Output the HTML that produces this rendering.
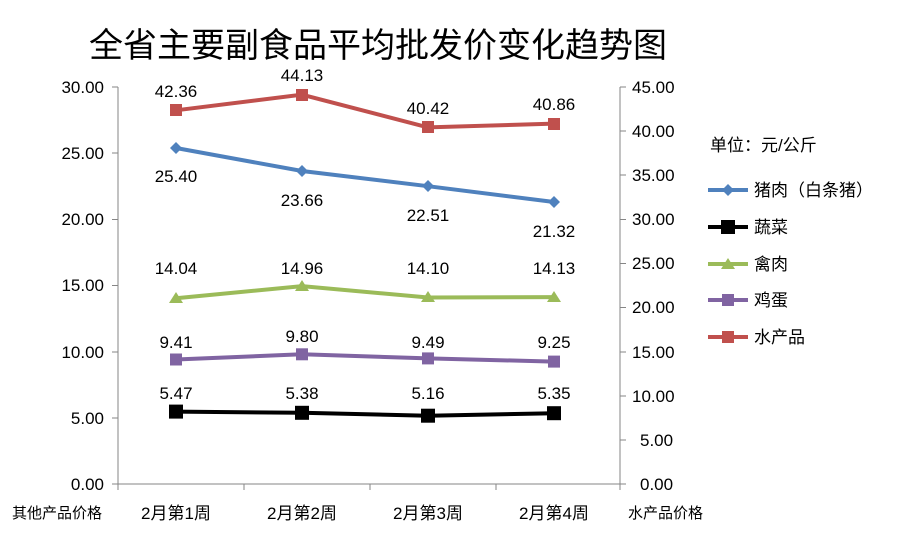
<!DOCTYPE html>
<html><head><meta charset="utf-8"><style>body{margin:0;background:#fff}svg{display:block}text{font-family:"Liberation Sans","Noto Sans CJK SC",sans-serif;fill:#000}</style></head><body>
<svg width="918" height="543" viewBox="0 0 918 543">
<text x="378" y="57" font-size="34" text-anchor="middle">全省主要副食品平均批发价变化趋势图</text>
<g stroke="#868686" stroke-width="1">
<line x1="118" y1="87" x2="118" y2="484"/><line x1="620" y1="87" x2="620" y2="484"/><line x1="118" y1="484" x2="620" y2="484"/>
<line x1="112" y1="87" x2="118" y2="87"/><line x1="112" y1="153" x2="118" y2="153"/><line x1="112" y1="219.5" x2="118" y2="219.5"/><line x1="112" y1="285.5" x2="118" y2="285.5"/><line x1="112" y1="352" x2="118" y2="352"/><line x1="112" y1="418" x2="118" y2="418"/><line x1="112" y1="484" x2="118" y2="484"/>
<line x1="620" y1="87" x2="626" y2="87"/><line x1="620" y1="131" x2="626" y2="131"/><line x1="620" y1="175" x2="626" y2="175"/><line x1="620" y1="219.5" x2="626" y2="219.5"/><line x1="620" y1="263.5" x2="626" y2="263.5"/><line x1="620" y1="307.5" x2="626" y2="307.5"/><line x1="620" y1="352" x2="626" y2="352"/><line x1="620" y1="396" x2="626" y2="396"/><line x1="620" y1="440" x2="626" y2="440"/><line x1="620" y1="484" x2="626" y2="484"/>
<line x1="244" y1="484" x2="244" y2="490"/><line x1="370" y1="484" x2="370" y2="490"/><line x1="496" y1="484" x2="496" y2="490"/><line x1="118" y1="484" x2="118" y2="490"/><line x1="620" y1="484" x2="620" y2="490"/>
</g>
<g font-size="17" text-anchor="end">
<text x="104" y="93">30.00</text><text x="104" y="159">25.00</text><text x="104" y="225">20.00</text><text x="104" y="291">15.00</text><text x="104" y="358">10.00</text><text x="104" y="424">5.00</text><text x="104" y="490">0.00</text>
</g>
<g font-size="17">
<text x="632" y="93">45.00</text><text x="632" y="137">40.00</text><text x="632" y="181">35.00</text><text x="632" y="225">30.00</text><text x="632" y="269">25.00</text><text x="632" y="313">20.00</text><text x="632" y="358">15.00</text><text x="632" y="402">10.00</text><text x="640" y="446">5.00</text><text x="640" y="490">0.00</text>
</g>
<g font-size="17" text-anchor="middle">
<text x="176" y="519">2月第1周</text><text x="302" y="519">2月第2周</text><text x="428" y="519">2月第3周</text><text x="554" y="519">2月第4周</text>
</g>
<text x="12" y="518" font-size="15">其他产品价格</text>
<text x="628" y="518" font-size="15">水产品价格</text>
<polyline points="176,110.3 302,94.7 428,127.4 554,123.6" fill="none" stroke="#c0504d" stroke-width="4"/>
<g fill="#c0504d"><rect x="170" y="104" width="12" height="12"/><rect x="296" y="89" width="12" height="12"/><rect x="422" y="121" width="12" height="12"/><rect x="548" y="118" width="12" height="12"/></g>
<polyline points="176,148 302,171 428,186.2 554,202" fill="none" stroke="#4f81bd" stroke-width="4"/>
<g fill="#4f81bd"><path d="M176,142l6,6l-6,6l-6,-6z"/><path d="M302,165l6,6l-6,6l-6,-6z"/><path d="M428,180l6,6l-6,6l-6,-6z"/><path d="M554,196l6,6l-6,6l-6,-6z"/></g>
<polyline points="176,298.3 302,286.1 428,297.5 554,297.1" fill="none" stroke="#9bbb59" stroke-width="4"/>
<g fill="#9bbb59"><path d="M176,292l7,11h-14z"/><path d="M302,280l7,11h-14z"/><path d="M428,291l7,11h-14z"/><path d="M554,291l7,11h-14z"/></g>
<polyline points="176,359.5 302,354.3 428,358.4 554,361.6" fill="none" stroke="#8064a2" stroke-width="4"/>
<g fill="#8064a2"><rect x="170" y="353.5" width="12" height="12"/><rect x="296" y="348.3" width="12" height="12"/><rect x="422" y="352.4" width="12" height="12"/><rect x="548" y="355.6" width="12" height="12"/></g>
<polyline points="176,411.6 302,412.8 428,415.7 554,413.2" fill="none" stroke="#000" stroke-width="4"/>
<g fill="#000"><rect x="169" y="404.6" width="14" height="14"/><rect x="295" y="405.8" width="14" height="14"/><rect x="421" y="408.7" width="14" height="14"/><rect x="547" y="406.2" width="14" height="14"/></g>
<g font-size="17" text-anchor="middle">
<text x="176" y="97">42.36</text><text x="302" y="81">44.13</text><text x="428" y="114">40.42</text><text x="554" y="110">40.86</text>
<text x="176" y="182">25.40</text><text x="302" y="206">23.66</text><text x="428" y="221">22.51</text><text x="554" y="237">21.32</text>
<text x="176" y="274">14.04</text><text x="302" y="274">14.96</text><text x="428" y="274">14.10</text><text x="554" y="274">14.13</text>
<text x="176" y="348">9.41</text><text x="302" y="342">9.80</text><text x="428" y="348">9.49</text><text x="554" y="348">9.25</text>
<text x="176" y="399">5.47</text><text x="302" y="399">5.38</text><text x="428" y="399">5.16</text><text x="554" y="399">5.35</text>
</g>
<text x="710" y="151" font-size="17">单位：元/公斤</text>
<line x1="708" y1="190" x2="748" y2="190" stroke="#4f81bd" stroke-width="4"/><path d="M728,184l6,6l-6,6l-6,-6z" fill="#4f81bd"/>
<text x="754" y="196" font-size="17">猪肉（白条猪）</text>
<line x1="708" y1="227" x2="748" y2="227" stroke="#000" stroke-width="4"/><rect x="721" y="220" width="14" height="14"/>
<text x="754" y="233" font-size="17">蔬菜</text>
<line x1="708" y1="264" x2="748" y2="264" stroke="#9bbb59" stroke-width="4"/><path d="M728,258l7,11h-14z" fill="#9bbb59"/>
<text x="754" y="270" font-size="17">禽肉</text>
<line x1="708" y1="300" x2="748" y2="300" stroke="#8064a2" stroke-width="4"/><rect x="722" y="294" width="12" height="12" fill="#8064a2"/>
<text x="754" y="306" font-size="17">鸡蛋</text>
<line x1="708" y1="337" x2="748" y2="337" stroke="#c0504d" stroke-width="4"/><rect x="722" y="331" width="12" height="12" fill="#c0504d"/>
<text x="754" y="343" font-size="17">水产品</text>
</svg></body></html>
